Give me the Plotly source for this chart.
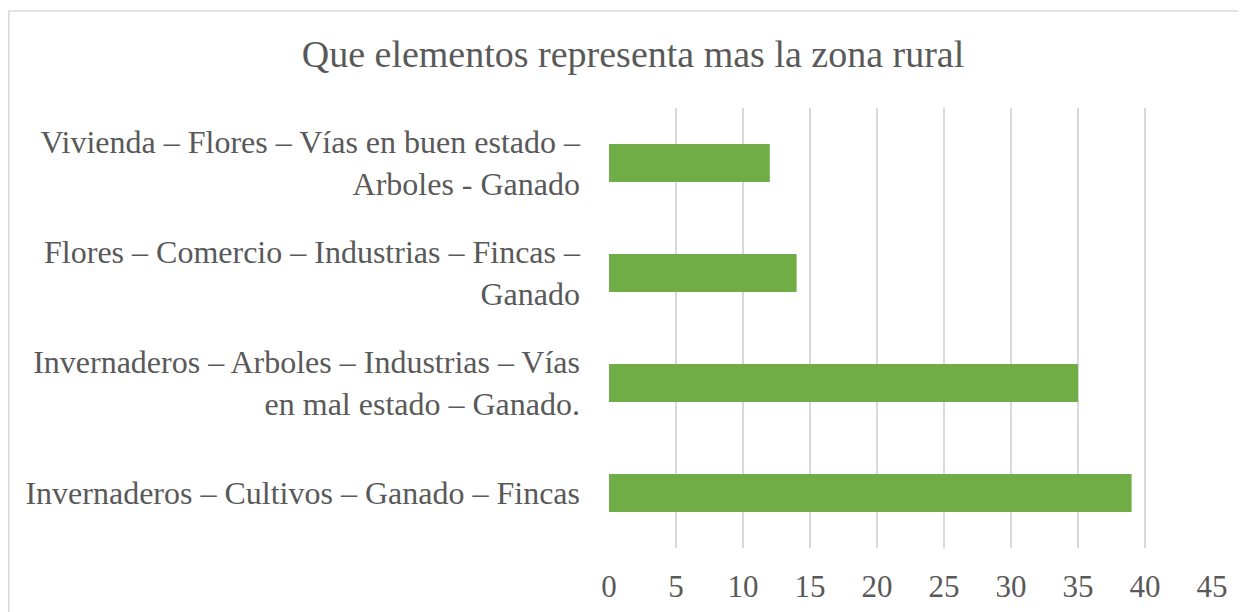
import plotly.graph_objects as go

# data
categories = [
    "Invernaderos – Cultivos – Ganado – Fincas",
    "Invernaderos – Arboles – Industrias – Vías<br>en mal estado – Ganado.",
    "Flores – Comercio – Industrias – Fincas –<br>Ganado",
    "Vivienda – Flores – Vías en buen estado –<br>Arboles - Ganado",
]
values = [39, 35, 14, 12]
tick_vals = [0, 5, 10, 15, 20, 25, 30, 35, 40, 45]

# page body has an 8px margin, so the figure sits at (8, 8)
OFF = 8
W, H = 1246 - OFF, 612 - OFF
L, R, T, B = 609 - OFF, 34, 108 - OFF, 64
grey = "#595959"
font_family = "Liberation Serif, Times New Roman, serif"

fig = go.Figure()
fig.add_trace(go.Bar(
    x=values, y=categories, orientation="h",
    marker=dict(color="#70AD47", line=dict(width=0)),
    width=0.345,
))

pw = W - L - R
ph = H - T - B
# light chart border (runs off the right/bottom of the picture)
fig.add_shape(type="rect", xref="paper", yref="paper",
              x0=(0.75 - L) / pw, x1=(W + 20 - L) / pw,
              y0=-(H + 20 - T - ph) / ph, y1=1 + (T - 3) / ph,
              line=dict(color="#D9D9D9", width=1.5), fillcolor="rgba(0,0,0,0)",
              layer="below")

fig.update_layout(
    width=W, height=H,
    margin=dict(l=L, r=R, t=T, b=B, autoexpand=False),
    paper_bgcolor="white", plot_bgcolor="white",
    showlegend=False,
    font=dict(family=font_family, color=grey, size=32),
    title=dict(text="Que elementos representa mas la zona rural",
               x=(633 - OFF) / W, xref="container", xanchor="center",
               y=1 - (54 - OFF) / H, yref="container", yanchor="middle",
               font=dict(size=38, color=grey, family=font_family)),
)
fig.update_xaxes(range=[0, 45], tickvals=tick_vals, showgrid=True,
                 gridcolor="#D9D9D9", gridwidth=1.5, zeroline=False,
                 showline=False, ticks="", ticklabelstandoff=17,
                 automargin=False, tickfont=dict(size=31, color=grey))
fig.update_yaxes(categoryorder="array", categoryarray=categories,
                 showgrid=False, showline=False, zeroline=False, ticks="",
                 ticklabelstandoff=28, automargin=False,
                 tickfont=dict(size=32, color=grey))

fig.write_html("out.html")
